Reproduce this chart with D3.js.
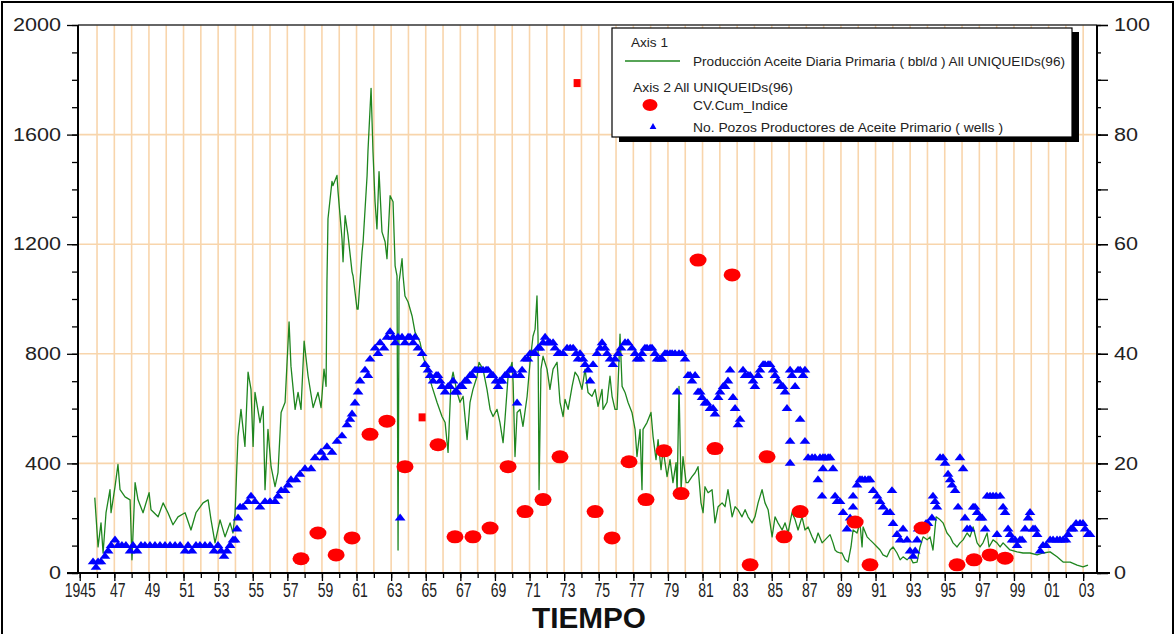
<!DOCTYPE html>
<html>
<head>
<meta charset="utf-8">
<script src="https://cdn.jsdelivr.net/npm/d3@7"></script>
<style>
body { margin: 0; background: #fff; }
svg { display: block; font-family: "Liberation Sans", Arial, sans-serif; }
</style>
</head>
<body>
<div class="graph"></div>
<script>
// Producción aceite diaria (axis 1, bbl/d)
var prodYears = [1945.87,1946.06,1946.23,1946.35,1946.52,1946.75,1946.81,1947.04,1947.21,1947.33,1947.62,1947.91,1948.02,1948.20,1948.37,1948.66,1949.01,1949.12,1949.53,1949.82,
  1950.10,1950.39,1950.68,1951.09,1951.43,1951.72,1952.13,1952.42,1952.59,1952.82,1953.11,1953.40,1953.69,1953.86,1953.98,1954.09,1954.15,1954.32,1954.55,1954.73,
  1954.90,1955.02,1955.13,1955.42,1955.60,1955.71,1955.88,1956.06,1956.29,1956.46,1956.64,1956.87,1957.10,1957.21,1957.45,1957.62,1957.79,1957.97,1958.20,1958.49,
  1958.77,1958.95,1959.12,1959.24,1959.29,1959.35,1959.58,1959.64,1959.87,1959.93,1960.16,1960.22,1960.34,1960.51,1960.74,1960.80,1961.03,1961.09,1961.32,1961.38,
  1961.61,1961.66,1961.84,1961.95,1962.07,1962.18,1962.30,1962.47,1962.65,1962.76,1962.94,1963.11,1963.23,1963.34,1963.40,1963.46,1963.63,1963.69,1963.80,1963.98,
  1964.21,1964.38,1964.67,1964.84,1965.08,1965.36,1965.65,1965.94,1966.12,1966.29,1966.46,1966.58,1966.81,1966.98,1967.16,1967.39,1967.56,1967.73,1967.97,1968.08,
  1968.31,1968.54,1968.72,1968.89,1969.12,1969.29,1969.47,1969.58,1969.76,1969.99,1970.05,1970.16,1970.28,1970.45,1970.62,1970.86,1971.03,1971.20,1971.32,1971.43,
  1971.49,1971.55,1971.66,1971.78,1972.01,1972.18,1972.36,1972.59,1972.76,1972.94,1973.05,1973.23,1973.46,1973.63,1973.80,1974.03,1974.21,1974.38,1974.61,1974.79,
  1974.96,1975.19,1975.25,1975.48,1975.65,1975.77,1975.94,1976.06,1976.23,1976.35,1976.52,1976.69,1976.92,1977.10,1977.21,1977.39,1977.50,1977.56,1977.79,1978.02,
  1978.14,1978.31,1978.43,1978.60,1978.72,1978.95,1979.12,1979.29,1979.47,1979.53,1979.64,1979.76,1979.87,1980.05,1980.16,1980.39,1980.57,1980.74,1980.91,1981.03,
  1981.14,1981.32,1981.55,1981.72,1981.90,1982.13,1982.30,1982.47,1982.71,1982.88,1983.05,1983.28,1983.46,1983.63,1983.86,1984.03,1984.21,1984.44,1984.61,1984.79,
  1985.02,1985.19,1985.36,1985.60,1985.77,1985.94,1986.17,1986.35,1986.52,1986.75,1986.92,1987.10,1987.33,1987.50,1987.68,1987.91,1988.08,1988.37,1988.54,1988.66,
  1988.77,1988.95,1989.06,1989.24,1989.41,1989.58,1989.70,1989.93,1990.10,1990.22,1990.28,1990.51,1990.68,1990.86,1991.09,1991.26,1991.43,1991.66,1991.84,1992.01,
  1992.24,1992.42,1992.59,1992.82,1992.99,1993.17,1993.40,1993.57,1993.75,1993.98,1994.15,1994.32,1994.50,1994.73,1994.90,1995.13,1995.31,1995.48,1995.71,1995.88,
  1996.06,1996.29,1996.46,1996.64,1996.87,1997.04,1997.21,1997.45,1997.56,1997.79,1998.02,1998.20,1998.37,1998.60,1998.77,1999.18,1999.53,1999.93,2000.34,2000.68,
  2001.09,2001.49,2001.84,2002.25,2002.65,2002.99,2003.28];
var prodValues = [275,95,183,73,220,304,220,315,396,304,278,267,48,330,267,220,293,231,205,256,
  220,176,205,220,157,220,256,267,194,110,194,132,183,146,220,403,498,597,462,733,
  670,462,659,549,608,304,524,388,315,366,586,623,916,755,597,659,597,846,718,604,
  659,604,744,681,1062,1293,1429,1414,1451,1392,1220,1136,1304,1231,1099,1084,963,963,1172,1209,
  1451,1538,1769,1538,1355,1256,1465,1245,1209,1147,1377,1355,1121,1084,84,1062,1147,1084,1011,989,
  938,879,842,791,744,681,623,571,549,440,696,733,659,623,645,487,623,670,718,769,
  744,670,597,571,597,549,476,560,718,769,696,425,586,597,535,645,769,864,890,1011,
  864,304,744,791,744,670,744,769,623,571,634,597,681,733,718,670,744,659,645,670,
  608,670,597,623,718,645,597,597,872,681,659,623,586,524,425,524,304,524,549,586,
  498,414,487,377,451,352,414,330,403,293,681,304,425,330,330,352,366,388,256,220,
  315,293,304,183,242,256,242,304,205,242,231,205,231,205,183,205,256,304,256,231,
  132,205,183,157,183,146,220,194,157,205,157,168,132,110,146,110,121,140,110,84,
  77,73,73,48,40,95,157,146,183,95,168,132,121,110,95,84,66,59,84,95,
  73,48,59,48,59,37,40,95,132,121,132,84,205,194,183,146,132,110,95,110,
  121,146,132,168,110,95,110,146,95,121,110,95,110,95,84,77,73,73,66,73,
  77,59,40,40,29,22,29];

// No. pozos productores (axis 2, wells)
var wellYears = [1945.77,1945.94,1946.06,1946.23,1946.46,1946.64,1946.81,1947.04,1947.21,1947.44,1947.67,1947.91,1948.08,1948.31,1948.54,1948.77,1949.06,1949.35,1949.64,1949.93,
  1950.22,1950.51,1950.80,1951.09,1951.26,1951.49,1951.72,1951.95,1952.24,1952.53,1952.76,1952.99,1953.17,1953.34,1953.51,1953.69,1953.86,1953.98,1954.09,1954.15,
  1954.27,1954.44,1954.73,1954.90,1955.13,1955.42,1955.71,1956.00,1956.29,1956.46,1956.64,1956.87,1957.04,1957.21,1957.50,1957.73,1958.02,1958.37,1958.60,1958.95,
  1959.12,1959.29,1959.58,1959.87,1960.16,1960.45,1960.62,1960.74,1960.91,1961.09,1961.20,1961.49,1961.66,1961.78,1962.07,1962.24,1962.36,1962.59,1962.76,1962.94,
  1963.11,1963.23,1963.40,1963.52,1963.63,1963.80,1963.98,1964.09,1964.27,1964.38,1964.55,1964.79,1964.96,1965.13,1965.25,1965.42,1965.60,1965.71,1965.83,1965.94,
  1966.12,1966.29,1966.40,1966.58,1966.69,1966.81,1966.98,1967.10,1967.27,1967.39,1967.56,1967.68,1967.85,1967.97,1968.14,1968.31,1968.49,1968.60,1968.77,1968.89,
  1969.06,1969.18,1969.29,1969.41,1969.58,1969.70,1969.87,1969.99,1970.16,1970.28,1970.45,1970.57,1970.74,1970.91,1971.03,1971.20,1971.32,1971.49,1971.60,1971.78,
  1971.90,1972.07,1972.18,1972.36,1972.47,1972.65,1972.76,1972.94,1973.17,1973.35,1973.52,1973.69,1973.80,1973.92,1974.09,1974.21,1974.38,1974.50,1974.67,1974.90,
  1975.08,1975.19,1975.36,1975.48,1975.65,1975.82,1975.94,1976.12,1976.29,1976.52,1976.69,1976.92,1977.10,1977.21,1977.39,1977.50,1977.67,1977.79,1977.97,1978.08,
  1978.25,1978.37,1978.54,1978.66,1978.83,1978.95,1979.12,1979.24,1979.41,1979.53,1979.64,1979.82,1979.99,1980.16,1980.28,1980.39,1980.57,1980.74,1980.86,1980.97,
  1981.14,1981.26,1981.43,1981.61,1981.72,1981.90,1982.01,1982.19,1982.30,1982.47,1982.59,1982.76,1982.88,1983.05,1983.17,1983.34,1983.46,1983.63,1983.75,1983.92,
  1984.03,1984.21,1984.32,1984.50,1984.61,1984.79,1984.90,1985.08,1985.19,1985.36,1985.54,1985.65,1985.77,1985.88,1986.06,1986.06,1986.06,1986.17,1986.35,1986.52,
  1986.64,1986.64,1986.81,1986.92,1986.92,1987.10,1987.33,1987.50,1987.67,1987.79,1987.91,1987.96,1987.96,1988.08,1988.26,1988.37,1988.54,1988.66,1988.77,1988.95,
  1989.12,1989.35,1989.53,1989.70,1989.70,1989.93,1990.10,1990.22,1990.39,1990.57,1990.68,1990.86,1991.09,1991.26,1991.43,1991.66,1991.84,1991.95,1992.01,1992.24,
  1992.42,1992.59,1992.82,1992.99,1993.17,1993.29,1993.40,1993.46,1993.63,1993.75,1993.92,1994.03,1994.26,1994.32,1994.44,1994.55,1994.73,1994.90,1995.02,1995.19,
  1995.31,1995.42,1995.60,1995.77,1995.88,1996.06,1996.17,1996.29,1996.46,1996.64,1996.75,1996.87,1997.04,1997.16,1997.33,1997.45,1997.62,1997.79,1997.97,1998.20,
  1998.02,1998.37,1998.49,1998.66,1998.77,1998.89,1999.06,1999.18,1999.35,1999.47,1999.64,1999.82,1999.93,2000.10,2000.22,2000.34,2000.51,2000.68,2000.86,2001.09,
  2001.26,2001.49,2001.66,2001.84,2002.01,2002.12,2002.30,2002.42,2002.59,2002.82,2002.99,2003.11,2003.28,2003.40];
var wellCounts = [2,1,2,2,3,4,5,6,5,5,5,4,5,4,5,5,5,5,5,5,
  5,5,5,4,5,4,5,5,5,5,4,5,4,3,4,5,6,6,8,10,
  12,12,13,14,13,12,13,13,13,14,15,15,16,17,17,18,19,19,21,22,
  21,23,22,24,25,27,28,29,31,33,35,37,36,39,41,40,42,41,43,44,
  43,42,43,10,43,42,43,43,42,43,41,40,38,37,36,35,36,36,35,34,
  33,34,34,35,33,33,34,34,35,35,36,36,37,37,37,37,37,37,36,36,
  35,34,35,35,36,36,37,37,36,31,36,37,39,39,40,40,40,41,41,42,
  43,42,42,42,41,40,40,40,41,41,41,40,39,40,39,38,37,35,38,40,
  41,42,41,40,39,38,39,40,41,42,42,41,40,39,39,40,41,41,41,41,
  40,39,39,39,40,40,40,40,40,33,40,40,39,36,36,35,36,33,33,32,
  31,31,30,30,29,32,33,34,34,35,37,32,30,27,28,37,36,36,36,35,
  34,36,37,38,38,38,38,37,36,35,34,34,33,30,37,24,20,36,34,37,
  37,28,36,37,24,21,21,21,17,21,14,19,21,21,21,21,19,14,13,13,
  11,8,10,12,14,16,17,17,17,17,17,15,14,13,12,11,11,15,9,7,
  6,8,6,4,3,4,6,8,8,8,9,9,10,14,13,12,21,21,20,18,
  17,16,15,12,21,19,10,8,8,12,12,11,10,10,8,14,14,14,14,14,
  7,12,11,8,7,6,6,5,6,6,8,10,11,8,8,7,4,5,5,6,
  6,6,6,6,6,7,8,8,9,9,9,8,7,7];

// CV.Cum_Indice (axis 2)
var cvYears = [1957.79,1958.77,1959.82,1960.74,1961.78,1962.76,1963.80,1965.71,1966.69,1967.73,1968.72,1969.76,1970.74,1971.78,1972.76,1974.79,1975.77,1976.75,1977.73,1978.77,
  1979.76,1980.74,1981.72,1982.71,1983.75,1984.73,1985.71,1986.64,1989.82,1990.68,1993.69,1995.71,1996.69,1997.62,1998.49];
var cvValues = [2.6,7.3,3.3,6.4,25.3,27.7,19.4,23.4,6.6,6.6,8.2,19.4,11.2,13.4,21.2,11.2,6.4,20.3,13.4,22.3,
  14.5,57.1,22.7,54.4,1.5,21.2,6.6,11.2,9.3,1.5,8.2,1.5,2.4,3.3,2.7];
var cvSquareYears = [1964.79, 1973.75];
var cvSquareValues = [28.4, 89.4];

// Axis ticks
var labelYears = [1945,1947,1949,1951,1953,1955,1957,1959,1961,1963,1965,1967,1969,1971,1973,1975,1977,1979,1981,1983,1985,1987,1989,1991,1993,1995,1997,1999,2001,2003];
var labelTexts = ["1945","47","49","51","53","55","57","59","61","63","65","67","69","71","73","75","77","79","81","83","85","87","89","91","93","95","97","99","01","03"];
var leftTicks = [0, 400, 800, 1200, 1600, 2000];
var rightTicks = [0, 20, 40, 60, 80, 100];

// Legend texts
var legendAxis1 = "Axis 1";
var legendProd = "Producción Aceite Diaria Primaria ( bbl/d ) All UNIQUEIDs(96)";
var legendAxis2 = "Axis 2 All UNIQUEIDs(96)";
var legendCv = "CV.Cum_Indice";
var legendWells = "No. Pozos Productores de Aceite Primario ( wells )";

// Configuration
var width = 1176, height = 634;
var plotLeft = 78, plotRight = 1097, plotTop = 25, plotBottom = 573;
var gridColour = "#f8d5ac";
var prodColour = "#1f861f";
var wellColour = "#0000ff";
var cvColour = "#ff0000";

var x = d3.scaleLinear().domain([1944.9, 2003.8]).range([plotLeft, plotRight]);
var yLeft = d3.scaleLinear().domain([0, 2000]).range([plotBottom, plotTop]);
var yRight = d3.scaleLinear().domain([0, 100]).range([plotBottom, plotTop]);

var svg = d3.select(".graph").append("svg")
    .attr("width", width)
    .attr("height", height);

svg.append("rect").attr("width", width).attr("height", height).attr("fill", "#fff");
svg.append("rect")
    .attr("x", 2).attr("y", 2).attr("width", 1171).attr("height", 650)
    .attr("fill", "none").attr("stroke", "#000").attr("stroke-width", 2);

// Grid
var allYears = d3.range(1946, 2004);
svg.append("g").selectAll("line").data(allYears).enter().append("line")
    .attr("x1", d => x(d)).attr("x2", d => x(d))
    .attr("y1", plotTop).attr("y2", plotBottom)
    .attr("stroke", gridColour).attr("stroke-width", 1.6);
svg.append("g").selectAll("line").data([400, 800, 1200, 1600]).enter().append("line")
    .attr("x1", plotLeft).attr("x2", plotRight)
    .attr("y1", d => yLeft(d)).attr("y2", d => yLeft(d))
    .attr("stroke", gridColour).attr("stroke-width", 1.6);

// top frame
svg.append("line")
    .attr("x1", plotLeft).attr("x2", plotRight)
    .attr("y1", plotTop).attr("y2", plotTop)
    .attr("stroke", "#333").attr("stroke-width", 1.5);

// Production line
var prodData = prodYears.map((d, i) => [d, prodValues[i]]);
svg.append("path")
    .datum(prodData)
    .attr("fill", "none")
    .attr("stroke", prodColour)
    .attr("stroke-width", 1.3)
    .attr("stroke-linejoin", "round")
    .attr("d", d3.line().x(d => x(d[0])).y(d => yLeft(d[1])));

// Wells
var tri = d3.symbol().type(d3.symbolTriangle).size(38);
svg.append("g").selectAll("path")
    .data(wellYears.map((d, i) => [d, wellCounts[i]]))
    .enter().append("path")
    .attr("d", tri)
    .attr("transform", d => "translate(" + x(d[0]) + "," + yRight(d[1]) + ") scale(1.15,0.85)")
    .attr("fill", wellColour);

// CV.Cum_Indice
svg.append("g").selectAll("ellipse")
    .data(cvYears.map((d, i) => [d, cvValues[i]]))
    .enter().append("ellipse")
    .attr("cx", d => x(d[0])).attr("cy", d => yRight(d[1]))
    .attr("rx", 8.5).attr("ry", 6.5)
    .attr("fill", cvColour);
svg.append("g").selectAll("rect")
    .data(cvSquareYears.map((d, i) => [d, cvSquareValues[i]]))
    .enter().append("rect")
    .attr("x", d => x(d[0]) - 3.5).attr("y", d => yRight(d[1]) - 4)
    .attr("width", 7).attr("height", 8)
    .attr("fill", cvColour);

// Axes
function styleAxis(g) {
    g.select(".domain").remove();
    g.selectAll("line").attr("stroke", "#000").attr("stroke-width", 1.3);
}

var leftMinor = svg.append("g").attr("transform", "translate(" + plotLeft + ",0)")
    .call(d3.axisLeft(yLeft).tickValues(d3.range(0, 2001, 100)).tickSize(6).tickFormat(""));
styleAxis(leftMinor);
var leftMajor = svg.append("g").attr("transform", "translate(" + plotLeft + ",0)")
    .call(d3.axisLeft(yLeft).tickValues(leftTicks).tickSize(11).tickPadding(6).tickFormat(d3.format("d")));
styleAxis(leftMajor);
leftMajor.selectAll("text")
    .attr("font-family", "Liberation Sans, Arial, sans-serif")
    .attr("font-size", 18).attr("fill", "#222")
    .attr("textLength", d => String(d).length * 12)
    .attr("lengthAdjust", "spacingAndGlyphs");

var rightMinor = svg.append("g").attr("transform", "translate(" + plotRight + ",0)")
    .call(d3.axisRight(yRight).tickValues(d3.range(0, 101, 5)).tickSize(4).tickFormat(""));
styleAxis(rightMinor);
var rightMid = svg.append("g").attr("transform", "translate(" + plotRight + ",0)")
    .call(d3.axisRight(yRight).tickValues(d3.range(0, 101, 10)).tickSize(11).tickFormat(""));
styleAxis(rightMid);
var rightMajor = svg.append("g").attr("transform", "translate(" + plotRight + ",0)")
    .call(d3.axisRight(yRight).tickValues(rightTicks).tickSize(11).tickPadding(6).tickFormat(d3.format("d")));
styleAxis(rightMajor);
rightMajor.selectAll("text")
    .attr("font-family", "Liberation Sans, Arial, sans-serif")
    .attr("font-size", 18).attr("fill", "#222")
    .attr("textLength", d => String(d).length * 12)
    .attr("lengthAdjust", "spacingAndGlyphs");

var bottomMinor = svg.append("g").attr("transform", "translate(0," + plotBottom + ")")
    .call(d3.axisBottom(x).tickValues(d3.range(1945, 2004, 1)).tickSize(5).tickFormat(""));
styleAxis(bottomMinor);
var bottomMajor = svg.append("g").attr("transform", "translate(0," + plotBottom + ")")
    .call(d3.axisBottom(x).tickValues(labelYears).tickSize(8)
        .tickFormat((d, i) => labelTexts[i]));
styleAxis(bottomMajor);
bottomMajor.selectAll("text")
    .attr("font-family", "Liberation Sans, Arial, sans-serif")
    .attr("font-size", 20).attr("fill", "#222")
    .attr("x", (d, i) => i === 0 ? 0 : 3).attr("y", 10).attr("dy", "0.71em")
    .attr("textLength", (d, i) => labelTexts[i].length * 7.8)
    .attr("lengthAdjust", "spacingAndGlyphs");

// axis lines
svg.append("line").attr("x1", plotLeft).attr("x2", plotLeft)
    .attr("y1", plotTop).attr("y2", plotBottom + 1)
    .attr("stroke", "#000").attr("stroke-width", 2);
svg.append("line").attr("x1", plotRight).attr("x2", plotRight)
    .attr("y1", plotTop).attr("y2", plotBottom + 1)
    .attr("stroke", "#000").attr("stroke-width", 2);
svg.append("line").attr("x1", 67).attr("x2", 1110)
    .attr("y1", plotBottom).attr("y2", plotBottom)
    .attr("stroke", "#000").attr("stroke-width", 2);

// Axis title
svg.append("text")
    .attr("x", 589).attr("y", 628)
    .attr("text-anchor", "middle")
    .attr("font-weight", "bold")
    .attr("font-size", 30)
    .attr("textLength", 114)
    .attr("lengthAdjust", "spacingAndGlyphs")
    .attr("fill", "#111")
    .text("TIEMPO");

// Legend
var lg = svg.append("g");
lg.append("rect").attr("x", 619).attr("y", 32).attr("width", 460).attr("height", 110).attr("fill", "#000");
lg.append("rect").attr("x", 612).attr("y", 28).attr("width", 460).attr("height", 109)
    .attr("fill", "#fff").attr("stroke", "#000").attr("stroke-width", 1.2);

function legendText(tx, ty, s, len) {
    lg.append("text").attr("x", tx).attr("y", ty)
        .attr("font-size", 13).attr("fill", "#222")
        .attr("textLength", len).attr("lengthAdjust", "spacingAndGlyphs")
        .text(s);
}
legendText(631, 47, legendAxis1, 37);
lg.append("line").attr("x1", 625).attr("x2", 680).attr("y1", 61).attr("y2", 61)
    .attr("stroke", prodColour).attr("stroke-width", 1.6);
legendText(693, 66, legendProd, 372);
legendText(633, 92, legendAxis2, 160);
lg.append("ellipse").attr("cx", 650).attr("cy", 105).attr("rx", 7.5).attr("ry", 6).attr("fill", cvColour);
legendText(693, 110, legendCv, 95);
lg.append("path").attr("d", d3.symbol().type(d3.symbolTriangle).size(20))
    .attr("transform", "translate(653,127)").attr("fill", wellColour);
legendText(693, 132, legendWells, 310);
</script>
</body>
</html>
